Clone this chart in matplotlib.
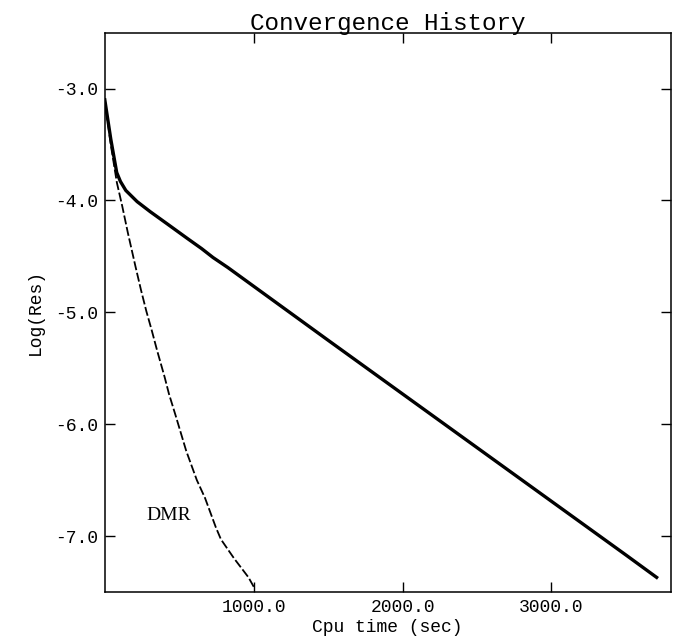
import numpy as np
import matplotlib.pyplot as plt
from matplotlib.ticker import FormatStrFormatter

# single grid solver (upper curve)
t_sg = [0, 40, 80, 105, 141, 217, 305, 420, 555, 650, 727, 827,
        1500, 2000, 2500, 3000, 3500, 3706]
res_sg = [-3.10, -3.45, -3.75, -3.83, -3.91, -4.01, -4.10, -4.21, -4.34, -4.43, -4.51, -4.60,
          -5.25, -5.73, -6.21, -6.69, -7.17, -7.37]

# DMR curve
t_dmr = [0, 40, 81, 117, 155, 206, 243, 279, 315, 351, 402, 431, 475,
         547, 618, 673, 745, 780, 868, 965, 1007]
res_dmr = [-3.10, -3.50, -3.84, -4.05, -4.29, -4.59, -4.80, -4.99, -5.16, -5.34, -5.58, -5.73, -5.92,
           -6.24, -6.50, -6.66, -6.92, -7.03, -7.20, -7.37, -7.47]

xticks = [1000, 2000, 3000]
yticks = [-7.0, -6.0, -5.0, -4.0, -3.0]

mono = 'Liberation Mono'

fig = plt.figure(figsize=(6.85, 6.42), dpi=100)
ax = fig.add_axes([0.153, 0.078, 0.826, 0.871])

ax.plot(t_sg, res_sg, color='black', lw=2.4)
ax.plot(t_dmr, res_dmr, color='black', lw=1.3, dashes=(5, 1.5))

ax.text(430, -6.82, 'DMR', family='Liberation Serif', fontsize=14, ha='center', va='center')

ax.set_xlim(0, 3800)
ax.set_ylim(-7.5, -2.5)
ax.set_xticks(xticks)
ax.set_yticks(yticks)
ax.xaxis.set_major_formatter(FormatStrFormatter('%.1f'))
ax.yaxis.set_major_formatter(FormatStrFormatter('%.1f'))
ax.tick_params(direction='in', length=7, width=1, top=True, right=True, labelsize=13, pad=5)
for lab in ax.get_xticklabels() + ax.get_yticklabels():
    lab.set_family(mono)
for s in ax.spines.values():
    s.set_linewidth(1.1)

ax.set_xlabel('Cpu time (sec)', family=mono, fontsize=13, labelpad=2)
ax.set_ylabel('Log(Res)', family=mono, fontsize=13, labelpad=8)
ax.set_title('Convergence History', family=mono, fontsize=17.5, pad=2)

fig.savefig('out.png', dpi=100)
